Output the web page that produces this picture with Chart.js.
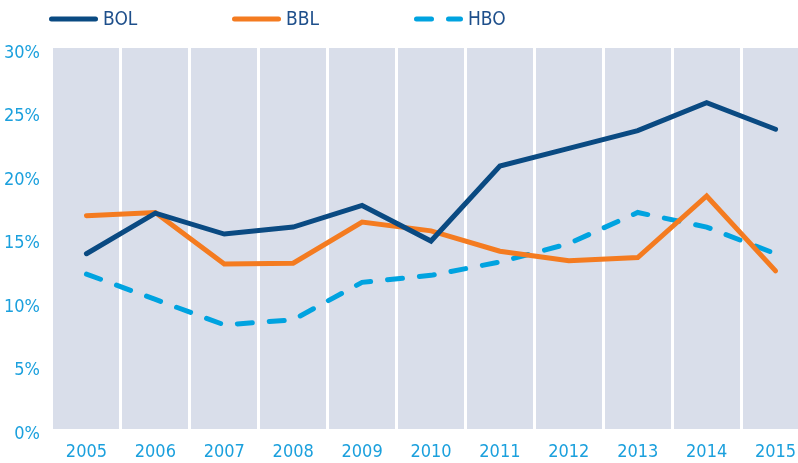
<!DOCTYPE html>
<html>
<head>
<meta charset="utf-8">
<script src="https://cdn.jsdelivr.net/npm/chart.js@4/dist/chart.umd.min.js"></script>
<style>
  html, body { margin: 0; padding: 0; background: #fff; overflow: hidden; }
  #wrap { width: 810px; height: 463px; }
</style>
</head>
<body>
<div id="wrap"><canvas id="myChart" width="810" height="463"></canvas></div>
<script>
const years = ['2005', '2006', '2007', '2008', '2009', '2010', '2011', '2012', '2013', '2014', '2015'];
const bolValues = [13.8, 17.0, 15.35, 15.9, 17.6, 14.8, 20.7, 22.1, 23.5, 25.7, 23.6];
const bblValues = [16.8, 17.05, 13.0, 13.05, 16.3, 15.6, 14.0, 13.25, 13.5, 18.35, 12.45];
const hboValues = [12.2, 10.2, 8.2, 8.6, 11.55, 12.1, 13.15, 14.6, 17.05, 15.9, 13.8];

const FONT = '"Liberation Sans Narrow", "DejaVu Sans Condensed", sans-serif';

// grey plot area behind the white column lines
const plotBackground = {
    id: 'plotBackground',
    beforeDraw(chart) {
        const { ctx, chartArea } = chart;
        ctx.save();
        ctx.fillStyle = '#d9deea';
        ctx.fillRect(chartArea.left, chartArea.top, chartArea.right - chartArea.left, chartArea.bottom - chartArea.top);
        ctx.restore();
    }
};

// legend spread out along the top, like the original
const topLegend = {
    id: 'topLegend',
    afterDraw(chart) {
        const ctx = chart.ctx;
        const starts = [49, 232, 414];
        chart.data.datasets.forEach((ds, i) => {
            const x = starts[i];
            const y = 19;
            ctx.save();
            ctx.strokeStyle = ds.borderColor;
            ctx.lineWidth = ds.borderWidth;
            ctx.lineCap = 'round';
            ctx.setLineDash(ds.borderDash || []);
            ctx.beginPath();
            ctx.moveTo(x + 2.5, y);
            ctx.lineTo(x + 46.5, y);
            ctx.stroke();
            ctx.setLineDash([]);
            ctx.fillStyle = '#1e4f8b';
            ctx.font = '19px ' + FONT;
            ctx.textBaseline = 'middle';
            ctx.fillText(ds.label, x + 54, y + 1);
            ctx.restore();
        });
    }
};

const ctx = document.getElementById('myChart').getContext('2d');
new Chart(ctx, {
    type: 'line',
    data: {
        labels: years,
        datasets: [{
            label: 'BOL',
            data: bolValues,
            borderColor: '#0a4a82',
            borderWidth: 5,
            borderCapStyle: 'round',
            pointRadius: 0,
            tension: 0
        }, {
            label: 'BBL',
            data: bblValues,
            borderColor: '#f47b20',
            borderWidth: 5,
            borderCapStyle: 'round',
            pointRadius: 0,
            tension: 0
        }, {
            label: 'HBO',
            data: hboValues,
            borderColor: '#00a3e0',
            borderWidth: 5,
            borderDash: [15, 17],
            borderCapStyle: 'round',
            pointRadius: 0,
            tension: 0
        }]
    },
    options: {
        responsive: false,
        animation: false,
        layout: { padding: { top: 48, left: 0, right: 0, bottom: 0 } },
        plugins: {
            legend: { display: false },
            tooltip: { enabled: false }
        },
        scales: {
            x: {
                offset: true,
                grid: { offset: true, color: '#ffffff', lineWidth: 3, drawTicks: false },
                border: { display: false },
                ticks: {
                    color: '#1ba0dd',
                    padding: 13,
                    maxRotation: 0,
                    font: { family: FONT, size: 18 }
                },
                afterFit(scale) { scale.height = 34; }
            },
            y: {
                min: 0,
                max: 30,
                grid: { display: false, drawTicks: false },
                border: { display: false },
                ticks: {
                    stepSize: 5,
                    color: '#1ba0dd',
                    padding: 12,
                    labelOffset: 5,
                    font: { family: FONT, size: 18 },
                    callback: v => v + '%'
                },
                afterFit(scale) { scale.width = 52; }
            }
        }
    },
    plugins: [plotBackground, topLegend]
});
</script>
</body>
</html>
